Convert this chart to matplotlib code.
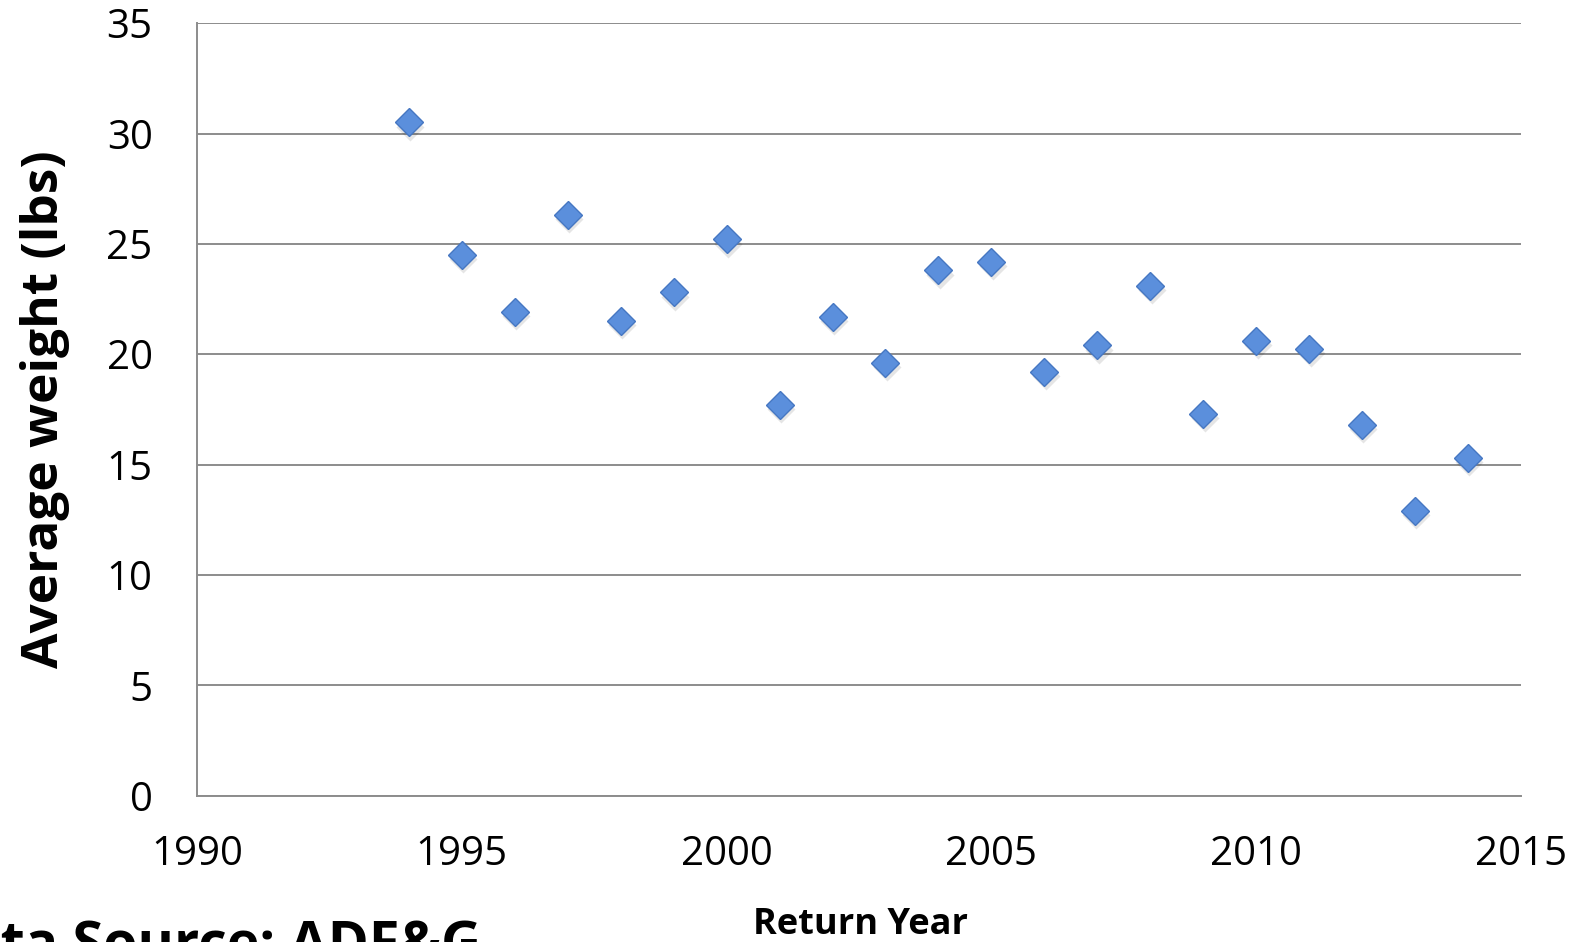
import matplotlib.pyplot as plt
import matplotlib.transforms as mtransforms

plt.rcParams['font.family'] = ['Open Sans', 'DejaVu Sans']

# average weight by return year
years = [1994, 1995, 1996, 1997, 1998, 1999, 2000, 2001, 2002, 2003, 2004,
         2005, 2006, 2007, 2008, 2009, 2010, 2011, 2012, 2013, 2014]
weights = [30.5, 24.5, 21.9, 26.3, 21.5, 22.8, 25.2, 17.7, 21.7, 19.6, 23.8,
           24.2, 19.2, 20.4, 23.1, 17.3, 20.6, 20.25, 16.8, 12.9, 15.3]
xticks = [1990, 1995, 2000, 2005, 2010, 2015]
yticks = [0, 5, 10, 15, 20, 25, 30, 35]

fig = plt.figure(figsize=(15.85, 9.42), dpi=100)
ax = fig.add_axes([0.1243, 0.1554, 0.8353, 0.82])

# soft shadow under the markers
shadow = ax.transData + mtransforms.ScaledTranslation(1/72, -3/72, fig.dpi_scale_trans)
ax.plot(years, weights, ls='none', marker='D', ms=14.5, color='#000000',
        alpha=0.10, mec='none', transform=shadow, zorder=3)
ax.plot(years, weights, ls='none', marker='D', ms=14, mfc='#5B8FDC',
        mec='#4677C2', mew=1.0, zorder=4)

ax.set_xlim(1990, 2015)
ax.set_ylim(0, 35)
ax.set_xticks(xticks)
ax.set_yticks(yticks)
ax.tick_params(length=0, labelsize=29)
ax.tick_params(axis='x', pad=28)
ax.tick_params(axis='y', pad=32)
ax.grid(axis='y', color='#8C8C8C', lw=1.4)
ax.set_axisbelow(True)
for s in ['top', 'right']:
    ax.spines[s].set_visible(False)
for s in ['left', 'bottom']:
    ax.spines[s].set_color('#8C8C8C')
    ax.spines[s].set_linewidth(1.4)

ax.set_ylabel('Average weight (lbs)', fontsize=37, fontweight='bold', labelpad=26)
fig.text(0.543, 0.018, 'Return Year', fontsize=26, fontweight='bold', ha='center', va='center')
fig.text(-0.047, -0.005, 'Data Source: ADF&G', fontsize=40, fontweight='bold', ha='left', va='center')

fig.savefig('out.png', dpi=100)
